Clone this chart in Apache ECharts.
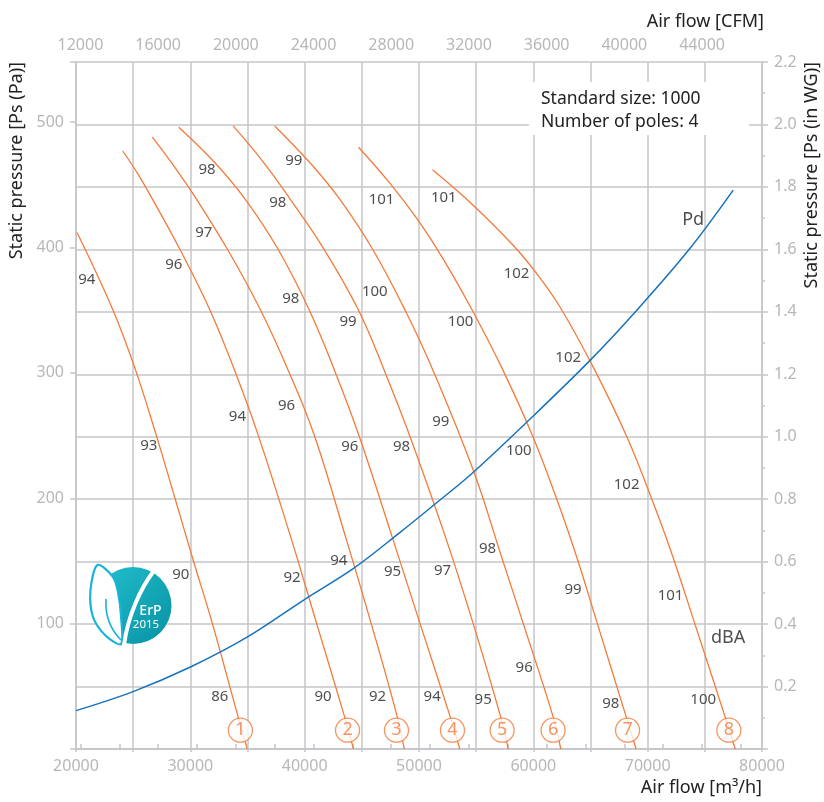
<!DOCTYPE html>
<html><head><meta charset="utf-8">
<script src="https://cdn.jsdelivr.net/npm/echarts@6/dist/echarts.min.js"></script>
<style>html,body{margin:0;padding:0;background:#fff}#c{width:824px;height:802px}</style>
</head><body><div id="c"></div>
<script>
// ---- data (air flow m3/h, static pressure Pa) ----
const curve1 = [[20090,412],[23240,350],[25180,303],[27030,250],[28690,199],[30240,151],[31930,100],[34170,26],[34980,0]];
const curve2 = [[24090,477],[25460,458],[26660,439],[29060,399],[31720,350],[33960,300],[35950,250],[38850,167],[41050,100],[43480,26],[44270,0]];
const curve3 = [[26680,488],[28720,463],[30510,439],[33220,399],[36150,350],[38660,300],[40850,250],[43650,167],[45820,100],[48090,26],[48710,0]];
const curve4 = [[28990,496],[32110,468],[34760,439],[37650,399],[40410,350],[42700,300],[44750,250],[47730,167],[50090,100],[52720,26],[53570,0]];
const curve5 = [[33740,497],[36400,468],[38700,439],[41670,399],[44710,350],[47050,300],[49180,250],[52390,167],[54740,100],[57130,26],[57810,0]];
const curve6 = [[37380,497],[40520,467],[43030,439],[45920,399],[48840,349],[51180,303],[54800,221],[57160,155],[59120,100],[61720,26],[62400,0]];
const curve7 = [[44710,480],[47570,450],[49900,422],[52110,391],[54720,349],[57300,303],[59920,250],[62140,197],[63870,151],[65600,100],[68110,26],[68990,0]];
const curve8 = [[51180,462],[54710,434],[58210,402],[60480,377],[62440,351],[65330,303],[68130,250],[70040,207],[71990,159],[74120,100],[76760,26],[77660,0]];
const pdCurve = [[20000,30.6],[24990,45.8],[30010,65.4],[35000,89.4],[39980,119.2],[44240,143.8],[48320,172.6],[51380,195.2],[54730,220.6],[59550,261.8],[64940,309.8],[69030,349.8],[73690,399.2],[77480,445.8]];

// sound level labels [flow, pressure, dBA]
const labels1 = [[20940,374,'94'],[26360,242,'93'],[29160,139,'90'],[32570,42,'86']];
const labels2 = [[28550,386,'96'],[34120,265,'94'],[38900,137,'92'],[41610,42,'90']];
const labels3 = [[31170,412,'97'],[38410,274,'96'],[42980,150,'94'],[46370,42,'92']];
const labels4 = [[31460,462,'98'],[38780,359,'98'],[43950,241,'96'],[47680,141,'95'],[51150,42,'94']];
const labels5 = [[37650,436,'98'],[43800,341,'99'],[48470,241,'98'],[52060,142,'97'],[55610,39,'95']];
const labels6 = [[39050,469,'99'],[46130,365,'100'],[51910,261,'99'],[55990,160,'98'],[59200,65,'96']];
const labels7 = [[46720,438,'101'],[53630,341,'100'],[58730,238,'100'],[63480,127,'99'],[66780,36,'98']];
const labels8 = [[52170,440,'101'],[58530,379,'102'],[63050,312,'102'],[68160,211,'102'],[72000,122,'101'],[74860,39,'100']];

// curve number markers [flow, pressure, number]
const curveMarks = [[34380,15,'1'],[43750,15,'2'],[48030,15,'3'],[52930,15,'4'],[57270,15,'5'],[61730,15,'6'],[68240,15,'7'],[77100,15,'8']];
const annotations = [[73980,422,'Pd'],[77040,89,'dBA']];

const flowTicksCFM = [12000,14000,16000,18000,20000,22000,24000,26000,28000,30000,32000,34000,36000,38000,40000,42000,44000,46000];
const flowLabelsCFM = [12000,16000,20000,24000,28000,32000,36000,40000,44000];
const pressureLabelsPa = [100,200,300,400,500];

const CFM_TO_M3H = 1.699011;
const PA_PER_INWG = 249.0889;
const PA_MAX = 2.2 * PA_PER_INWG;

// ---- styles ----
const FONT = '"Noto Sans", "Open Sans", sans-serif';
const ORANGE = '#f47a3a';
const BLUE = '#1673bb';
const GRID = '#c6c6ca';
const TICK = '#b7b7b7';
const DARK = '#222222';

const chart = echarts.init(document.getElementById('c'), null, {renderer: 'canvas'});

const curves = [curve1, curve2, curve3, curve4, curve5, curve6, curve7, curve8];
const allLabels = [].concat(labels1, labels2, labels3, labels4, labels5, labels6, labels7, labels8);

const series = curves.map(c => ({
  type: 'line', data: c, xAxisIndex: 0, yAxisIndex: 0, smooth: 0.4,
  symbol: 'none', silent: true, z: 2,
  lineStyle: {color: ORANGE, width: 1.3}
}));
series.push({
  type: 'line', data: pdCurve, xAxisIndex: 0, yAxisIndex: 0, smooth: 0.35,
  symbol: 'none', silent: true, z: 3, lineStyle: {color: BLUE, width: 1.5}
});
series.push({
  type: 'scatter', data: allLabels, xAxisIndex: 0, yAxisIndex: 0, symbolSize: 1, silent: true, z: 5,
  itemStyle: {color: 'rgba(0,0,0,0)'},
  label: {show: true, position: 'inside', formatter: p => p.value[2], color: DARK, fontSize: 15, fontFamily: FONT}
});
series.push({
  type: 'scatter', data: annotations, xAxisIndex: 0, yAxisIndex: 0, symbolSize: 1, silent: true, z: 5,
  itemStyle: {color: 'rgba(0,0,0,0)'},
  label: {show: true, position: 'inside', formatter: p => p.value[2], color: DARK, fontSize: 18, fontFamily: FONT}
});
series.push({
  type: 'scatter', data: curveMarks, xAxisIndex: 0, yAxisIndex: 0, symbol: 'circle', symbolSize: 24, silent: true, z: 6,
  itemStyle: {color: '#ffffff', borderColor: ORANGE, borderWidth: 1.3},
  label: {show: true, position: 'inside', formatter: p => p.value[2], color: ORANGE, fontSize: 18, fontFamily: FONT}
});

const axisLineStyle = {color: GRID, width: 1.5};

const option = {
  animation: false,
  textStyle: {fontFamily: FONT},
  grid: {left: 76, right: 62, top: 62, bottom: 53, outerBoundsMode: 'none'},
  xAxis: [
    {
      type: 'value', position: 'bottom', min: 20000, max: 80000, interval: 5000,
      axisLine: {show: true, lineStyle: axisLineStyle},
      axisTick: {show: true, length: 3, lineStyle: axisLineStyle},
      axisLabel: {color: TICK, fontSize: 16, margin: 9, fontFamily: FONT,
        formatter: v => (v % 10000 === 0 ? String(v) : '')},
      splitLine: {show: true, lineStyle: {color: GRID, width: 1.5}}
    },
    {
      type: 'value', position: 'top', min: 20000, max: 80000,
      axisLine: {show: true, lineStyle: axisLineStyle},
      axisTick: {show: true, length: 5, lineStyle: axisLineStyle,
        customValues: flowTicksCFM.map(c => c * CFM_TO_M3H)},
      axisLabel: {color: TICK, fontSize: 16, margin: 9, fontFamily: FONT,
        customValues: flowLabelsCFM.map(c => c * CFM_TO_M3H),
        formatter: v => String(Math.round(v / CFM_TO_M3H))},
      splitLine: {show: false}
    }
  ],
  yAxis: [
    {
      type: 'value', position: 'left', min: 0, max: PA_MAX,
      axisLine: {show: true, lineStyle: axisLineStyle},
      axisTick: {show: true, length: 6, lineStyle: axisLineStyle,
        customValues: [0].concat(pressureLabelsPa, [PA_MAX])},
      axisLabel: {color: TICK, fontSize: 16, margin: 12, fontFamily: FONT,
        customValues: pressureLabelsPa, formatter: v => String(Math.round(v))},
      splitLine: {show: false}
    },
    {
      type: 'value', position: 'right', min: 0, max: 2.2, interval: 0.2,
      axisLine: {show: true, lineStyle: axisLineStyle},
      axisTick: {show: true, length: 6, lineStyle: axisLineStyle},
      minorTick: {show: true, splitNumber: 2, length: 3, lineStyle: axisLineStyle},
      axisLabel: {color: TICK, fontSize: 16, margin: 12, fontFamily: FONT,
        formatter: v => (Math.abs(v) < 1e-6 ? '' : v.toFixed(1))},
      splitLine: {show: true, lineStyle: {color: GRID, width: 1.5}}
    }
  ],
  series: series,
  graphic: [
    {type: 'text', x: 764, y: 22, z: 50, style: {text: 'Air flow [CFM]', fill: DARK, font: '18px ' + FONT, textAlign: 'right', textVerticalAlign: 'middle'}},
    {type: 'text', x: 762, y: 788, z: 50, style: {text: 'Air flow [m³/h]', fill: DARK, font: '18px ' + FONT, textAlign: 'right', textVerticalAlign: 'middle'}},
    {type: 'text', x: 17, y: 62, rotation: Math.PI / 2, z: 50, style: {text: 'Static pressure [Ps (Pa)]', fill: DARK, font: '18px ' + FONT, textAlign: 'right', textVerticalAlign: 'middle'}},
    {type: 'text', x: 812, y: 62, rotation: Math.PI / 2, z: 50, style: {text: 'Static pressure [Ps (in WG)]', fill: DARK, font: '18px ' + FONT, textAlign: 'right', textVerticalAlign: 'middle'}},
    {type: 'rect', z: 40, shape: {x: 529, y: 82, width: 220, height: 53}, style: {fill: '#ffffff'}},
    {type: 'text', x: 541, y: 88, z: 41, style: {text: 'Standard size: 1000\nNumber of poles: 4', fill: DARK, font: '17.5px ' + FONT, lineHeight: 23, textAlign: 'left', textVerticalAlign: 'top'}},
    // ErP 2015 logo
    {type: 'circle', z: 40, shape: {cx: 133, cy: 605.5, r: 38.5},
      style: {fill: new echarts.graphic.LinearGradient(0, 0, 1, 1, [{offset: 0, color: '#22c0cc'}, {offset: 1, color: '#0891a4'}])}},
    {type: 'polygon', z: 41, shape: {points: [[97.5,565],[90.5,590],[93,617],[106,636],[121,644],[121,616],[118,592],[113,577]], smooth: 0.3},
      style: {fill: '#ffffff', stroke: '#16b4d8', lineWidth: 2.2}},
    {type: 'bezierCurve', z: 42, shape: {x1: 106, y1: 599, x2: 121, y2: 640, cpx1: 105, cpy1: 615, cpx2: 110, cpy2: 629},
      style: {fill: null, stroke: '#16b4d8', lineWidth: 1.6}},
    {type: 'bezierCurve', z: 42, shape: {x1: 153, y1: 572, x2: 124, y2: 645, cpx1: 141, cpy1: 588, cpx2: 128, cpy2: 615},
      style: {fill: null, stroke: '#ffffff', lineWidth: 4}},
    {type: 'text', x: 150.5, y: 611.5, z: 43, style: {text: 'ErP', fill: '#ffffff', font: '500 14px ' + FONT, textAlign: 'center', textVerticalAlign: 'middle'}},
    {type: 'text', x: 146, y: 625, z: 43, style: {text: '2015', fill: '#ffffff', font: '11.5px ' + FONT, textAlign: 'center', textVerticalAlign: 'middle'}}
  ]
};
chart.setOption(option);
</script>
</body></html>
